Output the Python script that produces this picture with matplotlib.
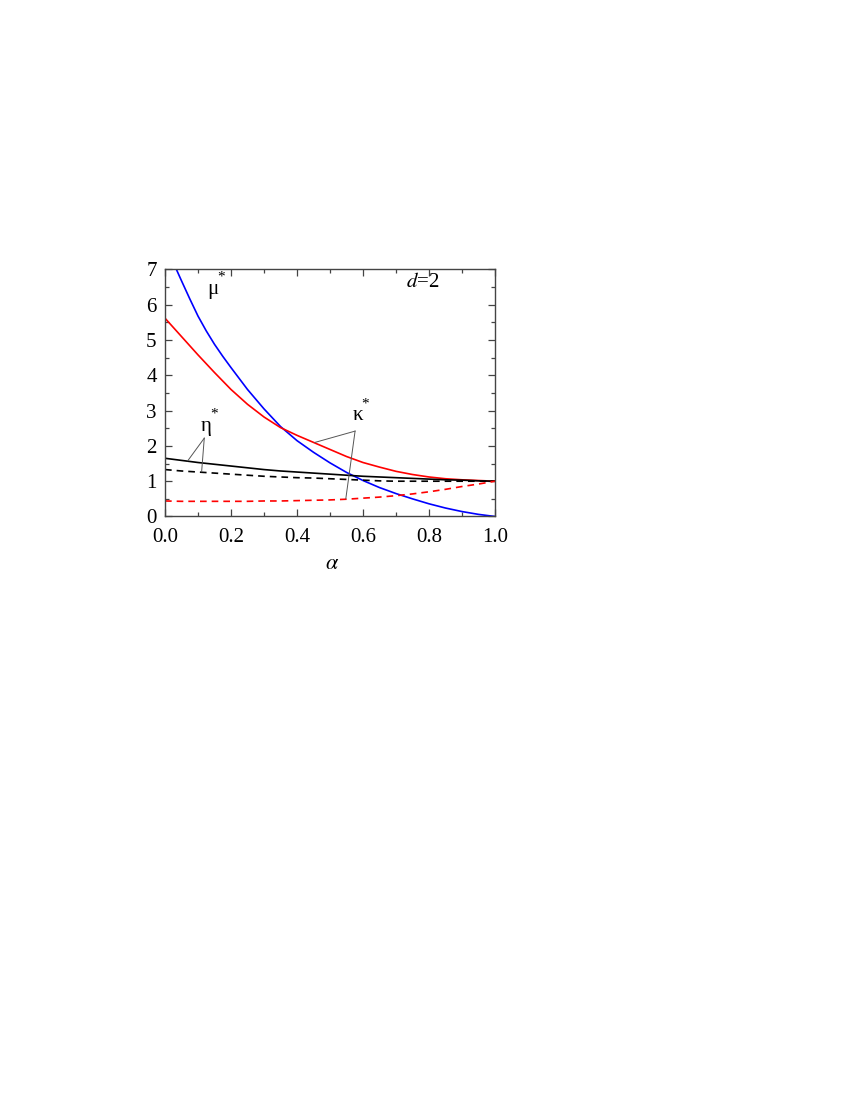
import numpy as np
import matplotlib.pyplot as plt

plt.rcParams['font.family'] = 'serif'
plt.rcParams['font.serif'] = ['Liberation Serif', 'DejaVu Serif']
plt.rcParams['mathtext.fontset'] = 'stix'

# ---- values
alpha = [0.0, 0.025, 0.05, 0.075, 0.1, 0.125, 0.15, 0.175, 0.2, 0.25, 0.3,
         0.35, 0.4, 0.45, 0.5, 0.55, 0.6, 0.65, 0.7, 0.75, 0.8, 0.85,
         0.9, 0.95, 1.0]

mu = [7.75, 7.20, 6.68, 6.17, 5.68, 5.26, 4.88, 4.54, 4.22, 3.60, 3.05,
      2.55, 2.15, 1.82, 1.52, 1.25, 1.02, 0.82, 0.65, 0.50, 0.36, 0.24,
      0.14, 0.06, 0.0]
kappa = [5.62, 5.36, 5.10, 4.84, 4.58, 4.33, 4.08, 3.84, 3.60, 3.18, 2.82,
         2.52, 2.30, 2.10, 1.90, 1.70, 1.53, 1.40, 1.28, 1.19, 1.12, 1.07,
         1.04, 1.02, 1.0]
eta = [1.65, 1.62, 1.59, 1.56, 1.53, 1.505, 1.48, 1.455, 1.43, 1.38, 1.33,
       1.29, 1.26, 1.23, 1.20, 1.17, 1.14, 1.12, 1.10, 1.08, 1.06, 1.04,
       1.03, 1.01, 1.0]
eta_dash = [1.33, 1.31, 1.29, 1.275, 1.26, 1.245, 1.23, 1.215, 1.20, 1.17, 1.14,
            1.12, 1.10, 1.09, 1.07, 1.05, 1.03, 1.01, 1.0, 1.0, 1.0, 1.0,
            1.0, 1.0, 1.0]
kappa_dash = [0.44, 0.435, 0.43, 0.43, 0.43, 0.43, 0.43, 0.43, 0.43, 0.43, 0.44,
              0.44, 0.45, 0.46, 0.47, 0.49, 0.52, 0.55, 0.59, 0.64, 0.70, 0.77,
              0.85, 0.92, 1.0]

xticks = [0.0, 0.2, 0.4, 0.6, 0.8, 1.0]
yticks = [0, 1, 2, 3, 4, 5, 6, 7]

fig = plt.figure(figsize=(8.5, 11), dpi=100)
ax = fig.add_axes([165/850, 1-516.5/1100, 330/850, 247/1100])

ax.plot(alpha, mu, color='#0000ff', lw=1.2)
ax.plot(alpha, kappa, color='#ff0000', lw=1.2)
ax.plot(alpha, eta, color='black', lw=1.2)
ax.plot(alpha, eta_dash, color='black', lw=1.2, ls=(0, (4, 3)))
ax.plot(alpha, kappa_dash, color='#ff0000', lw=1.2, ls=(0, (4, 3)))

# leader lines
lc = '#555555'
ax.plot([0.119, 0.069], [2.22, 1.58], color=lc, lw=0.7)
ax.plot([0.119, 0.111], [2.22, 1.27], color=lc, lw=0.7)
ax.plot([0.576, 0.4545], [2.42, 2.10], color=lc, lw=0.7)
ax.plot([0.576, 0.548], [2.42, 0.51], color=lc, lw=0.7)

# labels
fs = 15
ax.text(0.146, 6.44, 'μ', fontsize=fs, ha='center', va='center')
ax.text(0.17, 6.80, '*', fontsize=11, ha='center', va='center')
ax.text(0.126, 2.54, 'η', fontsize=fs, ha='center', va='center')
ax.text(0.149, 2.90, '*', fontsize=11, ha='center', va='center')
ax.text(0.584, 2.85, 'κ', fontsize=fs, ha='center', va='center')
ax.text(0.606, 3.19, '*', fontsize=11, ha='center', va='center')
ax.text(0.782, 6.64, r'$d$=2', fontsize=fs, ha='center', va='center')

ax.set_xlim(0, 1)
ax.set_ylim(0, 7)
ax.set_xticks(xticks)
ax.set_xticklabels(['%.1f' % v for v in xticks])
ax.set_yticks(yticks)
ax.set_xticks(np.arange(0.1, 1.0, 0.2), minor=True)
ax.set_yticks(np.arange(0.5, 7, 1.0), minor=True)
ax.tick_params(which='both', direction='in', top=True, right=True,
               labelsize=15, width=0.9, color='#444444')
ax.tick_params(which='major', length=5)
ax.tick_params(which='minor', length=3)
ax.tick_params(axis='x', which='major', pad=8)
ax.tick_params(axis='y', which='major', pad=6)
for s in ax.spines.values():
    s.set_linewidth(1.0)
    s.set_color('#444444')

ax.text(0.506, -0.196, r'$\alpha$', transform=ax.transAxes, fontsize=16,
        ha='center', va='center')

plt.savefig('out.png', dpi=100)
